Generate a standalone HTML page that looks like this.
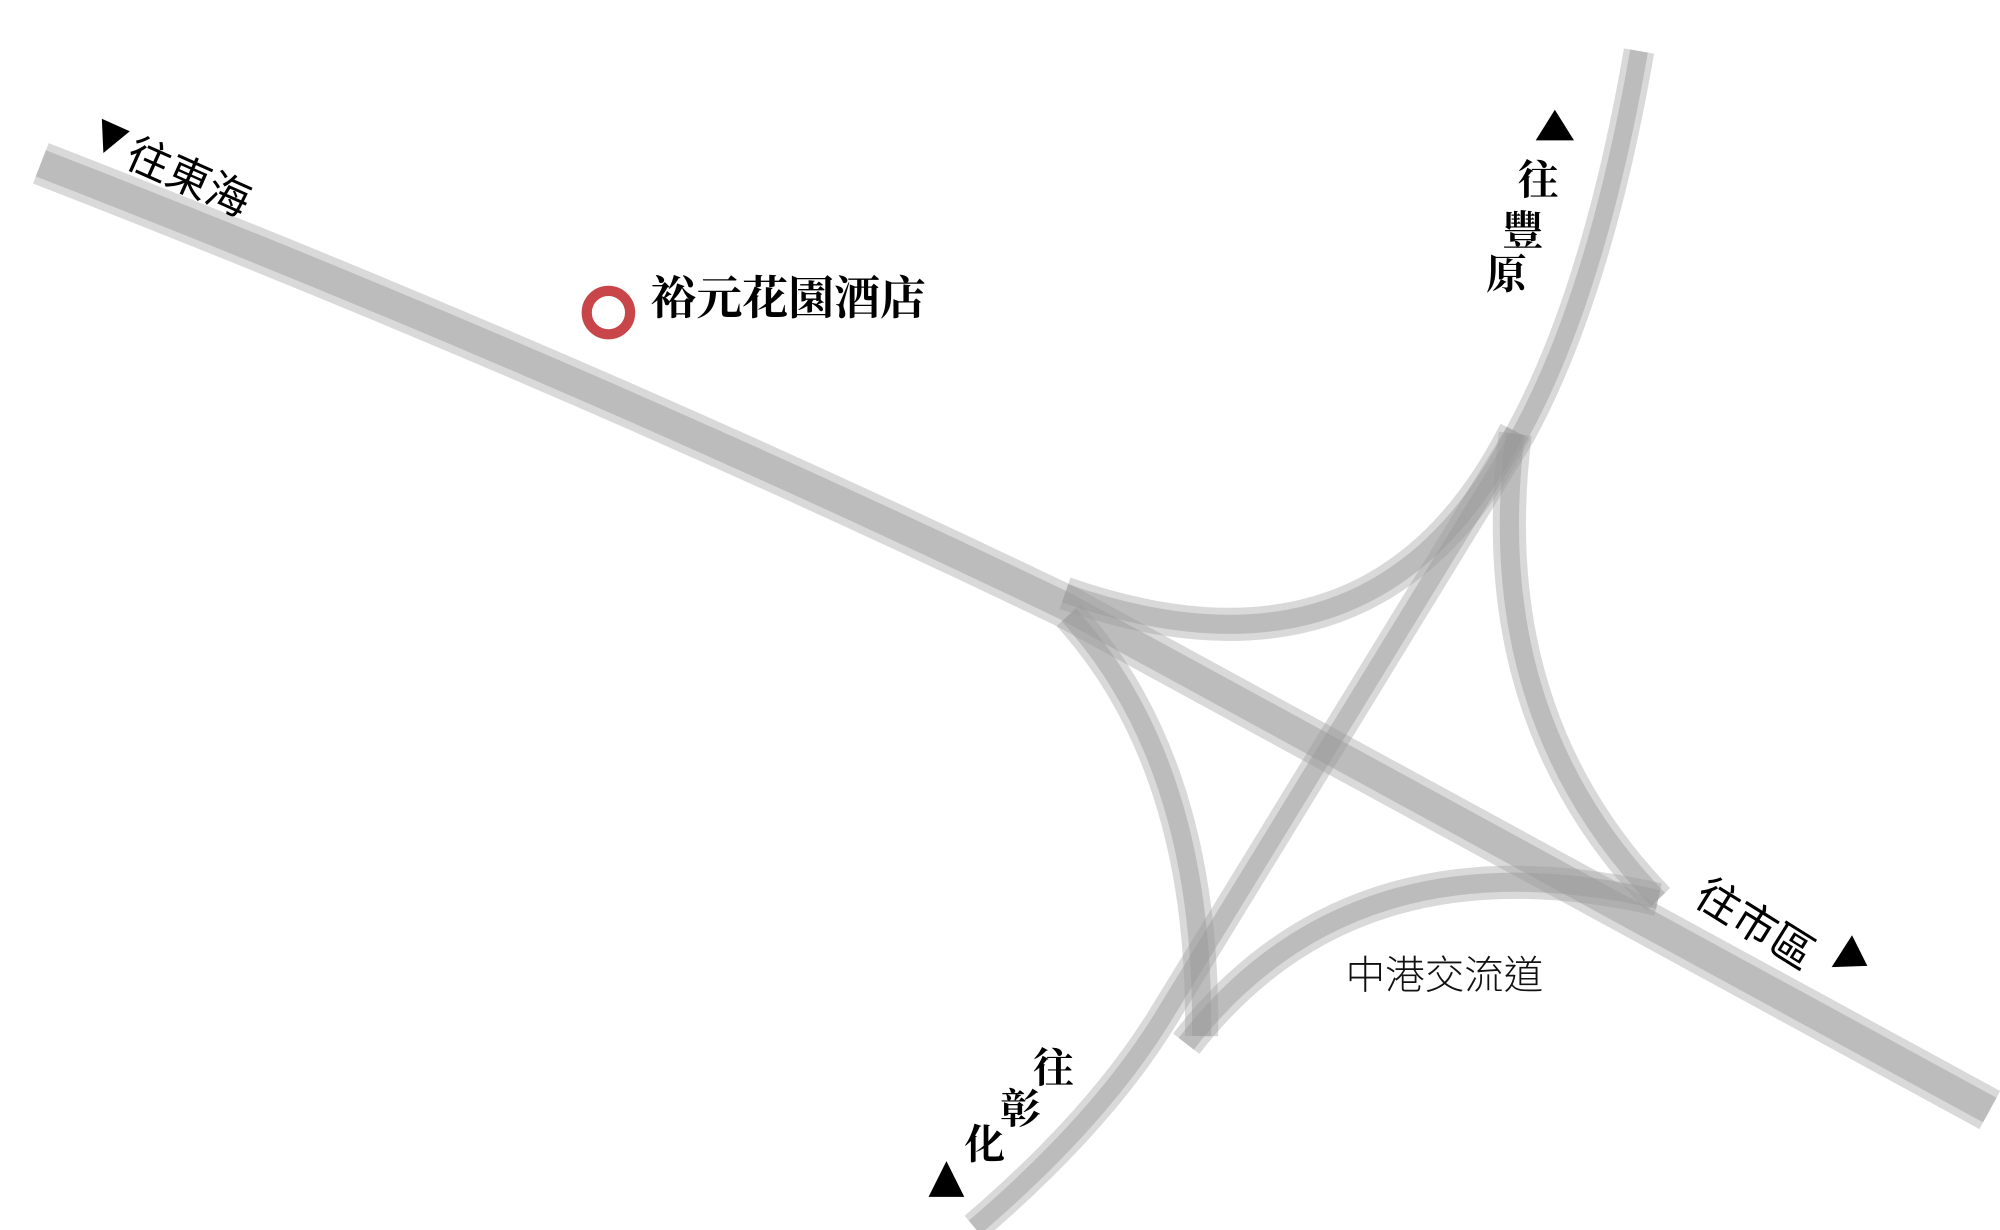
<!DOCTYPE html>
<html><head><meta charset="utf-8"><style>
html,body{margin:0;padding:0;background:#fff;width:2000px;height:1230px;overflow:hidden}
svg{display:block}
.sans{font-family:"Liberation Sans","Noto Sans CJK TC",sans-serif}
.serif{font-family:"Liberation Serif","Noto Serif CJK SC",serif;font-weight:bold}
</style></head><body>
<svg width="2000" height="1230" viewBox="0 0 1568 964" preserveAspectRatio="none" xmlns="http://www.w3.org/2000/svg">
<g fill="none" stroke-linecap="butt">
  <g stroke="#a0a0a0" stroke-opacity="0.4">
    <path d="M32,128 Q450,290 835,475 L1560,870" stroke-width="34"/>
    <path d="M1285,40 Q1252,230 1192,340 L910,800 Q860,880 764,962" stroke-width="24"/>
    <path d="M835,465 Q1080,550 1188,338" stroke-width="26"/>
    <path d="M838,482 Q945,600 942,812" stroke-width="26"/>
    <path d="M1188,340 Q1160,560 1300,705" stroke-width="26"/>
    <path d="M930,818 Q1060,650 1300,705" stroke-width="26"/>
  </g>
  <g stroke="#999" stroke-opacity="0.45">
    <path d="M32,128 Q450,290 835,475 L1560,870" stroke-width="22"/>
    <path d="M1285,40 Q1252,230 1192,340 L910,800 Q860,880 764,962" stroke-width="14"/>
    <path d="M835,465 Q1080,550 1188,338" stroke-width="15"/>
    <path d="M838,482 Q945,600 942,812" stroke-width="15"/>
    <path d="M1188,340 Q1160,560 1300,705" stroke-width="15"/>
    <path d="M930,818 Q1060,650 1300,705" stroke-width="15"/>
  </g>
  <circle cx="477" cy="245" r="17" stroke="#c8464a" stroke-width="8"/>
</g>
<text class="serif" x="510" y="246" font-size="36" fill="#000">裕元花園酒店</text>

<g transform="translate(78,112) rotate(24)">
  <polygon points="-6,-18 18,-18 6,6" fill="#000"/>
  <text class="sans" x="24" y="8" font-size="34" fill="#000">往東海</text>
</g>

<polygon points="1219,86 1234,110 1204,110" fill="#000"/>
<text class="serif" x="1190" y="152" font-size="32" fill="#000">往</text>
<text class="serif" x="1178" y="192" font-size="32" fill="#000">豐</text>
<text class="serif" x="1165" y="226" font-size="32" fill="#000">原</text>

<g transform="translate(1333,697) rotate(32)">
  <text class="sans" x="0" y="12" font-size="34" fill="#000">往市區</text>
</g>
<polygon points="1452,733 1464,757 1436,758" fill="#000"/>

<text class="sans" x="1055" y="775" font-size="31" font-weight="300" fill="#111">中港交流道</text>

<text class="serif" x="810" y="848" font-size="32" fill="#000">往</text>
<text class="serif" x="784" y="880" font-size="32" fill="#000">彰</text>
<text class="serif" x="756" y="908" font-size="32" fill="#000">化</text>
<polygon points="742,910 756,938 728,938" fill="#000"/>
</svg>
</body></html>
